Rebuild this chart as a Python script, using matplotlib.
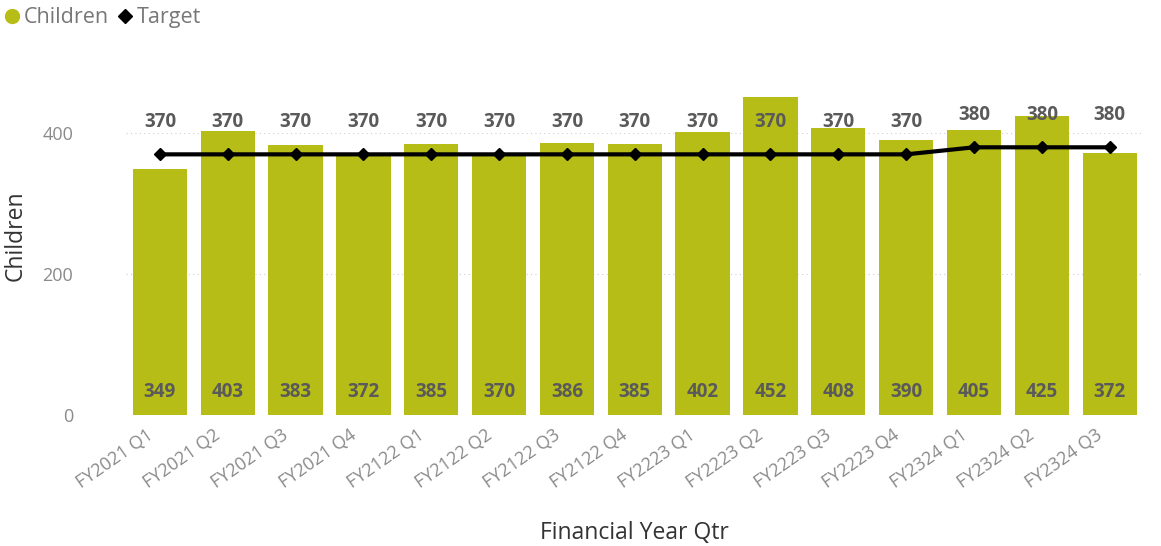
import matplotlib
matplotlib.use("Agg")
import matplotlib.pyplot as plt
import matplotlib.transforms as mtransforms
from matplotlib.lines import Line2D
import numpy as np

plt.rcParams['font.family'] = ['Open Sans', 'DejaVu Sans']

quarters = ["FY2021 Q1", "FY2021 Q2", "FY2021 Q3", "FY2021 Q4",
            "FY2122 Q1", "FY2122 Q2", "FY2122 Q3", "FY2122 Q4",
            "FY2223 Q1", "FY2223 Q2", "FY2223 Q3", "FY2223 Q4",
            "FY2324 Q1", "FY2324 Q2", "FY2324 Q3"]
children = [349, 403, 383, 372, 385, 370, 386, 385, 402, 452, 408, 390, 405, 425, 372]
target = [370, 370, 370, 370, 370, 370, 370, 370, 370, 370, 370, 370, 380, 380, 380]
yticks = [0, 200, 400]

bar_color = "#B6BD17"
label_color = "#5a5a5a"
tick_color = "#8a8a8a"

fig = plt.figure(figsize=(11.61, 5.46), dpi=100)
ax = fig.add_axes([0.1085, 0.240, 0.8765, 0.645])

x = np.arange(len(quarters))
ax.bar(x, children, width=0.8, color=bar_color, zorder=2)
ax.plot(x, target, color="black", linewidth=3, marker="D", markersize=6, zorder=3)

for xi, v in zip(x, children):
    ax.text(xi, 32, f"{v}", ha="center", va="center", fontsize=13.5,
            fontweight="bold", color=label_color, zorder=4)
for xi, t in zip(x, target):
    ax.annotate(f"{t}", (xi, t), xytext=(0, 23), textcoords="offset points",
                ha="center", va="center", fontsize=13.5, fontweight="bold",
                color=label_color, zorder=4)

ax.set_xlim(-0.5, len(quarters) - 0.5)
ax.set_ylim(0, 500)
ax.set_yticks(yticks)
ax.set_yticklabels([str(t) for t in yticks])
ax.set_xticks(x)
ax.set_xticklabels(quarters, rotation=35, ha="right", rotation_mode="anchor")
ax.tick_params(axis="x", length=0, colors=tick_color, labelsize=13, pad=8)
ax.tick_params(axis="y", length=0, colors=tick_color, labelsize=13, pad=38)

# nudge the slanted category labels slightly left of their ticks
shift = mtransforms.ScaledTranslation(-14 / 100, 0, fig.dpi_scale_trans)
for lbl in ax.get_xticklabels():
    lbl.set_transform(lbl.get_transform() + shift)

ax.yaxis.grid(True, linestyle=(0, (1, 3)), color="#cccccc", linewidth=0.8, zorder=0)
ax.set_axisbelow(True)
for s in ax.spines.values():
    s.set_visible(False)

ax.set_ylabel("Children", fontsize=16.5, color="#333333")
ax.yaxis.set_label_coords(-0.097, 0.51)
ax.set_xlabel("Financial Year Qtr", fontsize=16.5, color="#333333")
ax.xaxis.set_label_coords(0.5, -0.30)

handles = [
    Line2D([], [], marker="o", linestyle="none", markersize=10,
           markerfacecolor=bar_color, markeredgecolor=bar_color, label="Children"),
    Line2D([], [], marker="D", linestyle="none", markersize=7.5,
           markerfacecolor="black", markeredgecolor="black", label="Target"),
]
fig.legend(handles=handles, loc="upper left", bbox_to_anchor=(0.002, 0.987),
           ncol=2, frameon=False, fontsize=15.5, handlelength=0.9,
           handletextpad=0.1, columnspacing=0.3, borderpad=0,
           borderaxespad=0, labelcolor="#777777")

fig.savefig("out.png", dpi=100)
